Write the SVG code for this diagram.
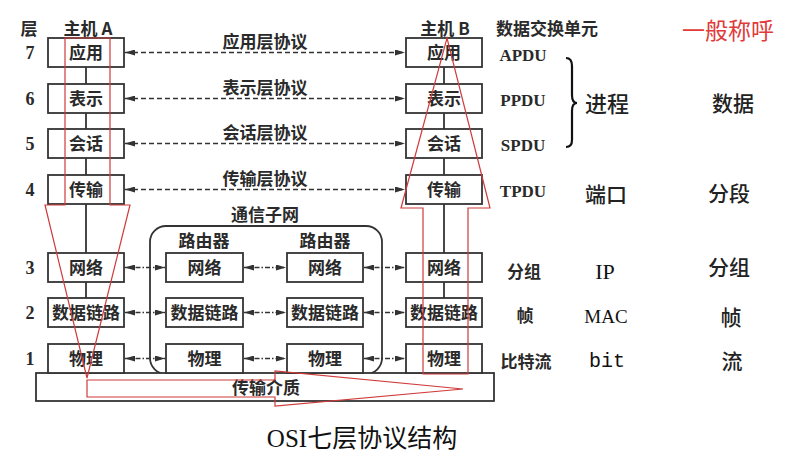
<svg xmlns="http://www.w3.org/2000/svg" width="792" height="462" viewBox="0 0 792 462">
<style>
.bx{fill:#fff;stroke:#333;stroke-width:1.8}
.t{font-family:"Noto Sans CJK SC",sans-serif;font-size:17px;font-weight:bold;fill:#2a2a2a;text-anchor:middle}
.s{font-family:"Liberation Serif","Noto Sans CJK SC",serif;font-weight:bold;fill:#2a2a2a;text-anchor:middle}
.big{font-family:"Noto Sans CJK SC",sans-serif;font-size:21px;font-weight:500;fill:#222;text-anchor:middle}
.vl{stroke:#333;stroke-width:1.8}
.dl{stroke:#333;stroke-width:1.5;stroke-dasharray:5 3;fill:none}
.dd{stroke:#333;stroke-width:1.5;stroke-dasharray:5 2 1.5 2;fill:none}
.red{fill:none;stroke:#d03a3a;stroke-width:1.2}
</style>
<defs>
<marker id="ah" markerUnits="userSpaceOnUse" markerWidth="10" markerHeight="6" refX="10" refY="3" orient="auto-start-reverse">
<path d="M0,0 L10,3 L0,6 z" fill="#333"/>
</marker>
</defs>
<rect width="792" height="462" fill="#fff"/>

<g id="headers">
<text class="t" x="29" y="35">层</text>
<text class="t" x="88" y="35">主机 A</text>
<text class="t" x="445" y="35">主机 B</text>
<text class="t" x="547" y="35">数据交换单元</text>
<text x="728" y="39" style="font-family:'Noto Sans CJK SC',sans-serif;font-size:23px;fill:#e03a3a;text-anchor:middle">一般称呼</text>
</g>

<g id="layer-numbers">
<text class="s" x="30" y="59" style="font-size:18px">7</text>
<text class="s" x="30" y="105" style="font-size:18px">6</text>
<text class="s" x="30" y="150" style="font-size:18px">5</text>
<text class="s" x="30" y="196" style="font-size:18px">4</text>
<text class="s" x="30" y="274" style="font-size:18px">3</text>
<text class="s" x="30" y="319" style="font-size:18px">2</text>
<text class="s" x="30" y="365" style="font-size:18px">1</text>
</g>

<g id="subnet">
<rect x="150" y="226" width="232" height="148" rx="16" fill="none" stroke="#333" stroke-width="1.8"/>
<text class="t" x="265" y="221">通信子网</text>
<text class="t" x="204" y="247">路由器</text>
<text class="t" x="325" y="247">路由器</text>
</g>

<g id="medium">
<rect class="bx" x="36" y="373" width="458" height="28"/>
<text class="t" x="266" y="394">传输介质</text>
</g>

<g id="connectors">
<line class="vl" x1="86" y1="67" x2="86" y2="84"/>
<line class="vl" x1="86" y1="113" x2="86" y2="129"/>
<line class="vl" x1="86" y1="158" x2="86" y2="175"/>
<line class="vl" x1="86" y1="204" x2="86" y2="253"/>
<line class="vl" x1="86" y1="282" x2="86" y2="298"/>
<line class="vl" x1="444" y1="67" x2="444" y2="84"/>
<line class="vl" x1="444" y1="113" x2="444" y2="129"/>
<line class="vl" x1="444" y1="158" x2="444" y2="175"/>
<line class="vl" x1="444" y1="204" x2="444" y2="253"/>
<line class="vl" x1="444" y1="282" x2="444" y2="298"/>
<line class="dl" x1="125" y1="52.5" x2="405" y2="52.5" marker-start="url(#ah)" marker-end="url(#ah)"/>
<line class="dl" x1="125" y1="98.5" x2="405" y2="98.5" marker-start="url(#ah)" marker-end="url(#ah)"/>
<line class="dl" x1="125" y1="143.5" x2="405" y2="143.5" marker-start="url(#ah)" marker-end="url(#ah)"/>
<line class="dl" x1="125" y1="189.5" x2="405" y2="189.5" marker-start="url(#ah)" marker-end="url(#ah)"/>
<line class="dd" x1="125" y1="267.5" x2="165" y2="267.5" marker-start="url(#ah)" marker-end="url(#ah)"/>
<line class="dd" x1="244" y1="267.5" x2="286" y2="267.5" marker-start="url(#ah)" marker-end="url(#ah)"/>
<line class="dd" x1="364" y1="267.5" x2="405" y2="267.5" marker-start="url(#ah)" marker-end="url(#ah)"/>
<line class="dd" x1="125" y1="312.5" x2="165" y2="312.5" marker-start="url(#ah)" marker-end="url(#ah)"/>
<line class="dd" x1="244" y1="312.5" x2="286" y2="312.5" marker-start="url(#ah)" marker-end="url(#ah)"/>
<line class="dd" x1="364" y1="312.5" x2="405" y2="312.5" marker-start="url(#ah)" marker-end="url(#ah)"/>
<line class="dd" x1="125" y1="358.5" x2="165" y2="358.5" marker-start="url(#ah)" marker-end="url(#ah)"/>
<line class="dd" x1="244" y1="358.5" x2="286" y2="358.5" marker-start="url(#ah)" marker-end="url(#ah)"/>
<line class="dd" x1="364" y1="358.5" x2="405" y2="358.5" marker-start="url(#ah)" marker-end="url(#ah)"/>
</g>

<g id="protocol-labels">
<text class="t" x="265" y="48">应用层协议</text>
<text class="t" x="265" y="94">表示层协议</text>
<text class="t" x="265" y="139">会话层协议</text>
<text class="t" x="265" y="185">传输层协议</text>
</g>

<g id="hostA">
<rect class="bx" x="48" y="38" width="76" height="29"/><text class="t" x="86" y="59">应用</text>
<rect class="bx" x="48" y="84" width="76" height="29"/><text class="t" x="86" y="105">表示</text>
<rect class="bx" x="48" y="129" width="76" height="29"/><text class="t" x="86" y="150">会话</text>
<rect class="bx" x="48" y="175" width="76" height="29"/><text class="t" x="86" y="196">传输</text>
<rect class="bx" x="48" y="253" width="76" height="29"/><text class="t" x="86" y="274">网络</text>
<rect class="bx" x="48" y="298" width="76" height="29"/><text class="t" x="86" y="319">数据链路</text>
<rect class="bx" x="48" y="344" width="76" height="29"/><text class="t" x="86" y="365">物理</text>
</g>

<g id="router1">
<rect class="bx" x="166" y="253" width="77" height="29"/><text class="t" x="204.5" y="274">网络</text>
<rect class="bx" x="166" y="298" width="77" height="29"/><text class="t" x="204.5" y="319">数据链路</text>
<rect class="bx" x="166" y="344" width="77" height="29"/><text class="t" x="204.5" y="365">物理</text>
</g>

<g id="router2">
<rect class="bx" x="287" y="253" width="76" height="29"/><text class="t" x="325" y="274">网络</text>
<rect class="bx" x="287" y="298" width="76" height="29"/><text class="t" x="325" y="319">数据链路</text>
<rect class="bx" x="287" y="344" width="76" height="29"/><text class="t" x="325" y="365">物理</text>
</g>

<g id="hostB">
<rect class="bx" x="406" y="38" width="76" height="29"/><text class="t" x="444" y="59">应用</text>
<rect class="bx" x="406" y="84" width="76" height="29"/><text class="t" x="444" y="105">表示</text>
<rect class="bx" x="406" y="129" width="76" height="29"/><text class="t" x="444" y="150">会话</text>
<rect class="bx" x="406" y="175" width="76" height="29"/><text class="t" x="444" y="196">传输</text>
<rect class="bx" x="406" y="253" width="76" height="29"/><text class="t" x="444" y="274">网络</text>
<rect class="bx" x="406" y="298" width="76" height="29"/><text class="t" x="444" y="319">数据链路</text>
<rect class="bx" x="406" y="344" width="76" height="29"/><text class="t" x="444" y="365">物理</text>
</g>

<g id="data-units">
<text class="s" x="523" y="61" style="font-size:17px">APDU</text>
<text class="s" x="523" y="106" style="font-size:17px">PPDU</text>
<text class="s" x="523" y="151" style="font-size:17px">SPDU</text>
<text class="s" x="523" y="197" style="font-size:17px">TPDU</text>
<text class="t" x="524" y="278">分组</text>
<text class="t" x="525" y="322">帧</text>
<text class="t" x="526" y="368">比特流</text>
</g>

<g id="brace">
<path d="M566,58 Q572,58 572,66 L572,95 Q572,103 577,103 Q572,103 572,111 L572,140 Q572,147 566,147" fill="none" stroke="#111" stroke-width="2.2"/>
</g>

<g id="common-names">
<text class="big" x="607" y="112" style="font-size:22px">进程</text>
<text class="big" x="606" y="202">端口</text>
<text class="s" x="605" y="279" style="font-size:22px;font-weight:normal;fill:#111">IP</text>
<text class="s" x="606" y="323" style="font-size:19px;font-weight:normal;fill:#111">MAC</text>
<text x="607" y="367" style="font-family:'Liberation Mono',monospace;font-size:20px;fill:#111;text-anchor:middle">bit</text>
<text class="big" x="733" y="111">数据</text>
<text class="big" x="729" y="201">分段</text>
<text class="big" x="729" y="275">分组</text>
<text class="big" x="731" y="325">帧</text>
<text class="big" x="732" y="369">流</text>
</g>

<g id="flow-arrows">
<polygon class="red" points="65,38 110,38 110,205 130,205 87,378 45,205 65,205"/>
<polygon class="red" points="87,380 275,380 275,371 463,389 275,406 275,397 87,397"/>
<polygon class="red" points="423,374 423,208 401,208 447,38 490,208 468,208 468,374"/>
</g>

<text x="362" y="447" style="font-family:'Liberation Serif','Noto Sans CJK SC',serif;font-size:25px;fill:#111;text-anchor:middle">OSI七层协议结构</text>
</svg>
